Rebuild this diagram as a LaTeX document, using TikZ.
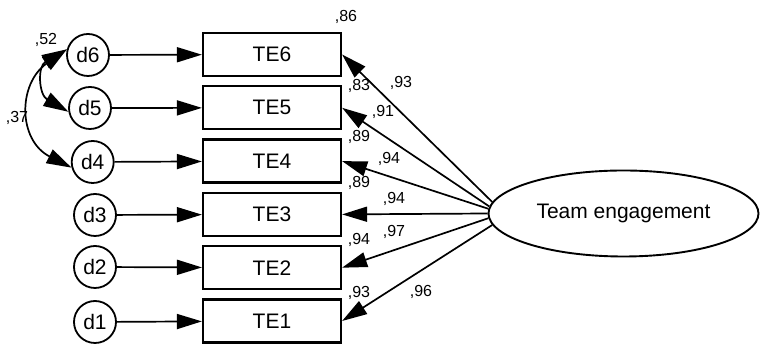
\documentclass[tikz,border=0pt]{standalone}
\usepackage{fontspec}
\setmainfont{Liberation Sans}
\usetikzlibrary{arrows.meta,shapes.geometric}
\begin{document}
\begin{tikzpicture}[x=1pt,y=1pt,
  obs/.style={draw, line width=2.2pt, minimum width=138pt, minimum height=43pt, inner sep=0pt, font=\fontsize{21}{24}\selectfont},
  err/.style={draw, circle, line width=1.8pt, minimum size=42pt, inner sep=0pt, font=\fontsize{21}{24}\selectfont},
  lat/.style={draw, ellipse, line width=1.9pt, minimum width=270pt, minimum height=86pt, inner sep=0pt, font=\fontsize{21}{24}\selectfont},
  lbl/.style={font=\fontsize{16}{18}\selectfont, inner sep=0pt},
  conn/.style={line width=1.7pt, -{Triangle[length=25pt,width=15pt]}},
  cov/.style={line width=1.7pt, {Triangle[length=25pt,width=15pt]}-{Triangle[length=25pt,width=15pt]}}]
\useasboundingbox (0,0) rectangle (760,344);
% observed
\node[obs] (TE6) at (272,289.5) {TE6};
\node[obs] (TE5) at (272,236.2) {TE5};
\node[obs] (TE4) at (272,182.9) {TE4};
\node[obs] (TE3) at (272,129.6) {TE3};
\node[obs] (TE2) at (272,76.3) {TE2};
\node[obs] (TE1) at (272,23) {TE1};
% errors
\node[err] (d6) at (88,289) {d6};
\node[err] (d5) at (90,236) {d5};
\node[err] (d4) at (92.7,182) {d4};
\node[err] (d3) at (95,129) {d3};
\node[err] (d2) at (95,77) {d2};
\node[err] (d1) at (95,22) {d1};
% latent
\node[lat] (te) at (623.5,130.5) {Team engagement};
% error arrows
\draw[conn] (d6) -- (TE6);
\draw[conn] (d5) -- (TE5);
\draw[conn] (d4) -- (TE4);
\draw[conn] (d3) -- (TE3);
\draw[conn] (d2) -- (TE2);
\draw[conn] (d1) -- (TE1);
% loadings
\draw[conn] (te.175) -- (TE6.east);
\draw[conn] (te.177) -- (TE5.east);
\draw[conn] (te.178.5) -- (TE4.east);
\draw[conn] (te.180) -- (TE3.east);
\draw[conn] (te.182.5) -- (TE2.east);
\draw[conn] (te.185) -- (TE1.east);
% covariances
\draw[cov] (d6.165) to[out=210, in=150, looseness=1.4] (d5.190);
\draw[cov] (d6.165) to[out=215, in=153, looseness=1.3] (d4.195);
% labels
\node[lbl] (r6) at (346,327) {,86};
\node[lbl] (r5) at (359,258) {,83};
\node[lbl] (r4) at (359,207) {,89};
\node[lbl] (r3) at (359,161) {,89};
\node[lbl] (r2) at (359,104) {,94};
\node[lbl] (r1) at (359,51) {,93};
\node[lbl] (l6) at (401,261) {,93};
\node[lbl] (l5) at (383,232) {,91};
\node[lbl] (l4) at (389,185) {,94};
\node[lbl] (l3) at (394,145) {,94};
\node[lbl] (l2) at (394,112) {,97};
\node[lbl] (l1) at (421,52) {,96};
\node[lbl] (c65) at (46,304) {,52};
\node[lbl] (c64) at (17,226) {,37};
\end{tikzpicture}
\end{document}
